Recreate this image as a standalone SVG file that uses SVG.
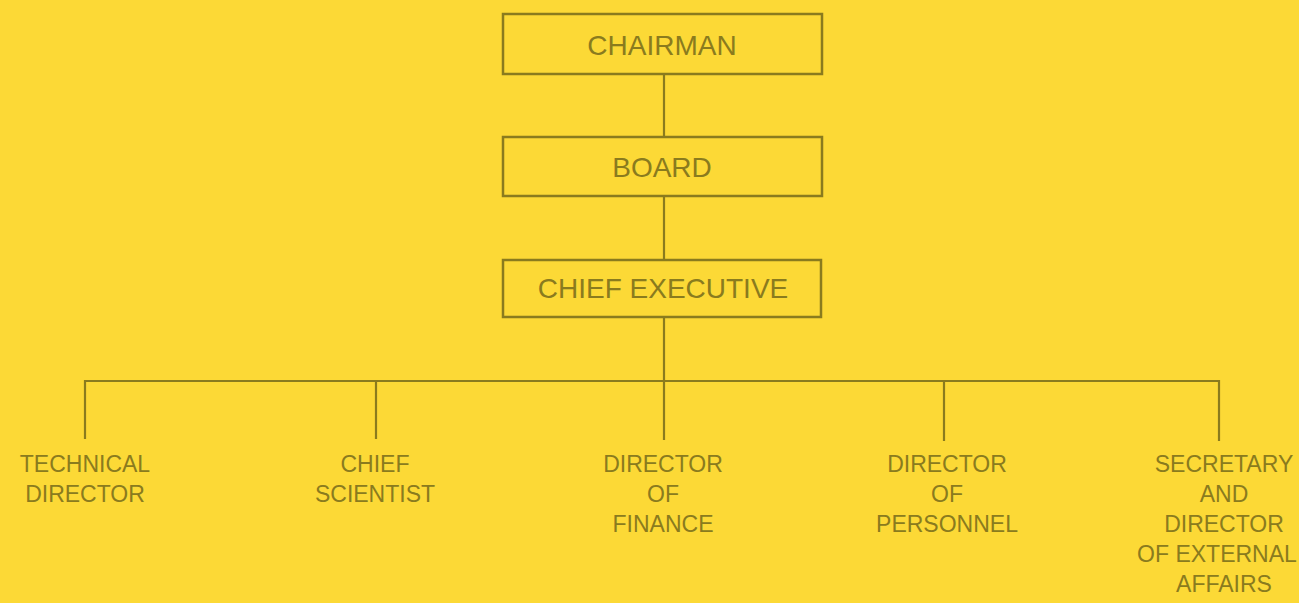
<svg xmlns="http://www.w3.org/2000/svg" width="1299" height="603" viewBox="0 0 1299 603">
<style>
.bg{fill:#fcd936}
.box{fill:none;stroke:#8a7b1e;stroke-width:2.5}
.ln{fill:none;stroke:#8a7b1e;stroke-width:2.2}
.bt{font-family:"Liberation Sans",Arial,sans-serif;font-size:28px;fill:#8a7b1e;text-anchor:middle}
.lt{font-family:"Liberation Sans",Arial,sans-serif;font-size:23px;fill:#8a7b1e;text-anchor:middle}
</style>
<rect class="bg" x="0" y="0" width="1299" height="603"/>
<g id="connectors">
<line class="ln" x1="664" y1="74" x2="664" y2="137"/>
<line class="ln" x1="664" y1="196" x2="664" y2="260"/>
<line class="ln" x1="664" y1="317" x2="664" y2="440"/>
<line class="ln" x1="84" y1="381" x2="1220" y2="381"/>
<line class="ln" x1="85" y1="380" x2="85" y2="439"/>
<line class="ln" x1="376" y1="380" x2="376" y2="439"/>
<line class="ln" x1="944" y1="380" x2="944" y2="441"/>
<line class="ln" x1="1219" y1="380" x2="1219" y2="441"/>
</g>
<g id="chairman">
<rect class="box" x="503" y="14" width="319" height="60"/>
<text class="bt" x="662" y="55">CHAIRMAN</text>
</g>
<g id="board">
<rect class="box" x="503" y="137" width="319" height="59"/>
<text class="bt" x="662" y="177">BOARD</text>
</g>
<g id="chief-executive">
<rect class="box" x="503" y="260" width="318" height="57"/>
<text class="bt" x="663" y="298">CHIEF EXECUTIVE</text>
</g>
<g id="technical-director">
<text class="lt" x="85" y="472">TECHNICAL</text>
<text class="lt" x="85" y="502">DIRECTOR</text>
</g>
<g id="chief-scientist">
<text class="lt" x="375" y="472">CHIEF</text>
<text class="lt" x="375" y="502">SCIENTIST</text>
</g>
<g id="director-finance">
<text class="lt" x="663" y="472">DIRECTOR</text>
<text class="lt" x="663" y="502">OF</text>
<text class="lt" x="663" y="532">FINANCE</text>
</g>
<g id="director-personnel">
<text class="lt" x="947" y="472">DIRECTOR</text>
<text class="lt" x="947" y="502">OF</text>
<text class="lt" x="947" y="532">PERSONNEL</text>
</g>
<g id="secretary">
<text class="lt" x="1224" y="472">SECRETARY</text>
<text class="lt" x="1224" y="502">AND</text>
<text class="lt" x="1224" y="532">DIRECTOR</text>
<text class="lt" x="1217" y="562">OF EXTERNAL</text>
<text class="lt" x="1224" y="592">AFFAIRS</text>
</g>
</svg>
